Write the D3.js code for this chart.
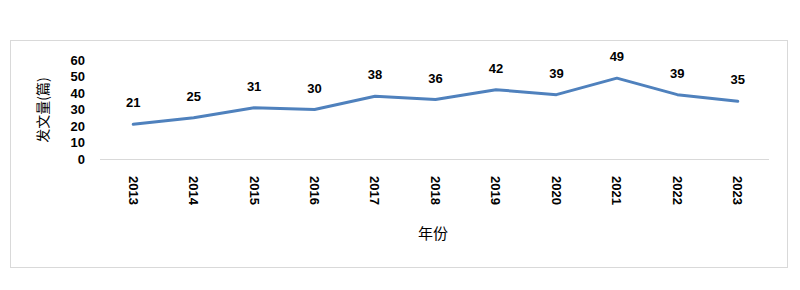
<!DOCTYPE html>
<html><head><meta charset="utf-8">
<script src="https://cdn.jsdelivr.net/npm/d3@7/dist/d3.min.js"></script>
<style>body{margin:0;background:#fff;}svg{display:block;}</style>
</head><body>
<svg id="c" width="800" height="290"></svg>
<script>
const years = ["2013","2014","2015","2016","2017","2018","2019","2020","2021","2022","2023"];
const counts = [21,25,31,30,38,36,42,39,49,39,35];
const yTicks = [0,10,20,30,40,50,60];
const xTitle = "年份";
const yTitle = "发文量(篇)";

const svg = d3.select("#c");
svg.append("rect").attr("x",10.5).attr("y",40.5).attr("width",777).attr("height",227)
  .attr("fill","#fff").attr("stroke","#d9d9d9").attr("stroke-width",1);

const x = d3.scaleBand().domain(years).range([103,768]);
const y = d3.scaleLinear().domain([0,60]).range([159,60]);

// baseline
svg.append("line").attr("x1",100).attr("x2",769).attr("y1",y(0)+0.5).attr("y2",y(0)+0.5)
  .attr("stroke","#d9d9d9").attr("stroke-width",1);

// y axis labels
const yAxis = d3.axisLeft(y).tickValues(yTicks).tickSize(0).tickPadding(0);
const gy = svg.append("g").attr("transform","translate(85,0)").call(yAxis);
gy.select(".domain").remove();
gy.selectAll("text").attr("font-family","Liberation Sans, Arial, sans-serif").attr("font-size",13).attr("font-weight","bold").attr("fill","#000");

// x axis labels rotated
const xAxis = d3.axisBottom(x).tickSize(0).tickPadding(0);
const gx = svg.append("g").attr("transform","translate(0,176)").call(xAxis);
gx.select(".domain").remove();
gx.selectAll("text").attr("font-family","Liberation Sans, Arial, sans-serif").attr("font-size",13).attr("font-weight","bold").attr("fill","#000")
  .attr("transform","rotate(90)").attr("text-anchor","start").attr("dy","0.35em").attr("x",0).attr("y",0);

// line
const line = d3.line().x((d,i)=>x(years[i])+x.bandwidth()/2).y(d=>y(d));
svg.append("path").datum(counts).attr("d",line).attr("fill","none")
  .attr("stroke","#4f81bd").attr("stroke-width",3).attr("stroke-linejoin","round").attr("stroke-linecap","round");

// data labels
svg.selectAll(".lbl").data(counts).enter().append("text")
  .attr("x",(d,i)=>x(years[i])+x.bandwidth()/2).attr("y",d=>y(d)-17)
  .attr("text-anchor","middle").attr("font-family","Liberation Sans, Arial, sans-serif")
  .attr("font-size",13).attr("font-weight","bold").attr("fill","#000").text(d=>d);

// titles
svg.append("text").attr("x",433).attr("y",239).attr("text-anchor","middle")
  .attr("font-family","Noto Sans CJK SC, sans-serif").attr("font-size",15).attr("fill","#000").text(xTitle);
svg.append("text").attr("transform","translate(48,110) rotate(-90)").attr("text-anchor","middle")
  .attr("font-family","Noto Sans CJK SC, sans-serif").attr("font-size",14).attr("fill","#000").text(yTitle);
</script>
</body></html>
